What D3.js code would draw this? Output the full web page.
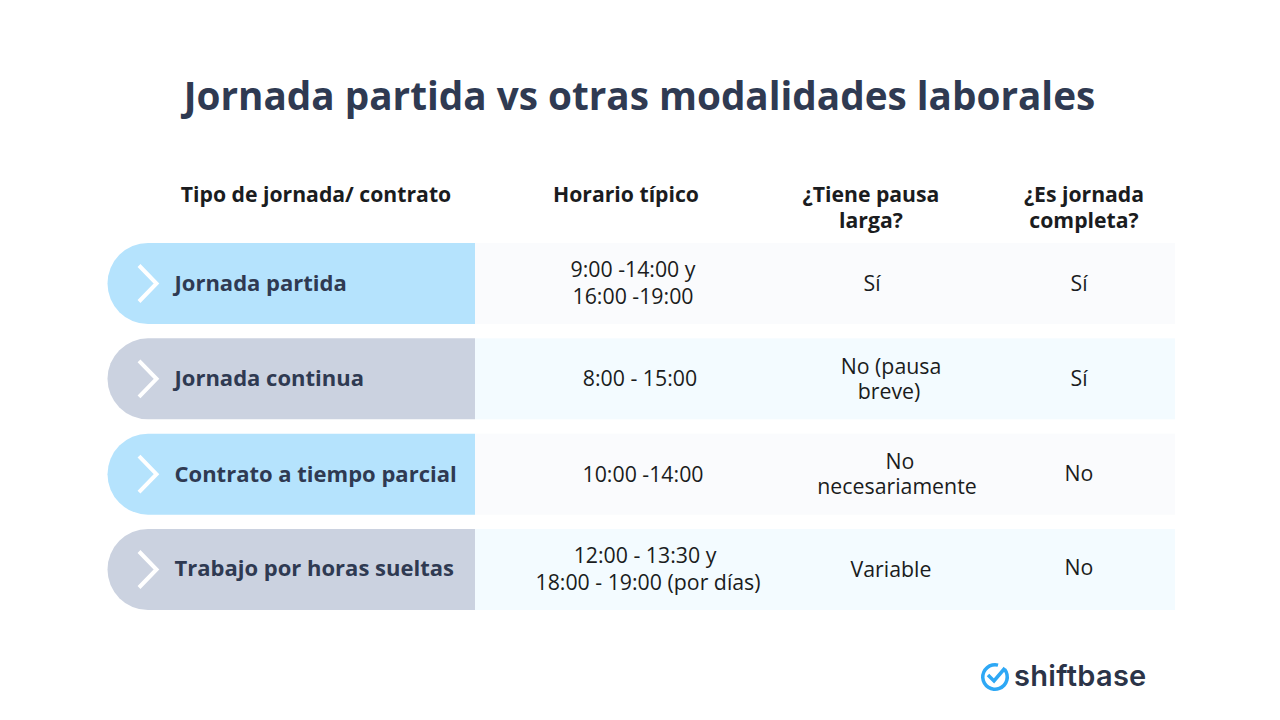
<!DOCTYPE html>
<html>
<head>
<meta charset="utf-8">
<script src="https://cdn.jsdelivr.net/npm/d3@7"></script>
<style>
  html, body { margin: 0; padding: 0; background: #fff; }
  svg { display: block; font-family: "Open Sans", sans-serif; }
</style>
</head>
<body>
<svg id="chart" width="1280" height="720"></svg>
<script>
var title = "Jornada partida vs otras modalidades laborales";
var jornadas = ["Jornada partida", "Jornada continua", "Contrato a tiempo parcial", "Trabajo por horas sueltas"];
var headers = [["Tipo de jornada/ contrato"], ["Horario típico"], ["¿Tiene pausa", "larga?"], ["¿Es jornada", "completa?"]];
var horarios = [["9:00 -14:00 y", "16:00 -19:00"], ["8:00 - 15:00"], ["10:00 -14:00"], ["12:00 - 13:30 y", "18:00 - 19:00 (por días)"]];
var pausas = [["Sí"], ["No (pausa", "breve)"], ["No", "necesariamente"], ["Variable"]];
var completas = [["Sí"], ["Sí"], ["No"], ["No"]];

var svg = d3.select("#chart");
var rowY = d3.scaleBand().domain(jornadas).range([243, 610]).paddingInner(0.15);
var colors = ["#b5e3fd", "#cbd2e0"];
var cellColors = ["#fafbfd", "#f3fbff"];
var dark = "#2f3a52";
var black = "#1a1c20";

// the original text boxes are not lined up on one axis, so each cell has its own nudge
var nudge = {
  horario: [[633, 633], [640], [643], [645, 648]],
  pausa: [[872], [891, 889], [900, 897], [891]],
  completa: [[1079], [1079], [1079], [1079]]
};
var midShift = {horario: [-1, -1, 0, -1], pausa: [-1, 0, -1, 0], completa: [-1, -1, -1, -2]};
var labelShift = [0, 0, 1, 0];

// multi line text goes in tspans of one text element
function multiline(x, y, lines, xs, gap){
  var t = svg.append("text").attr("y", y).attr("text-anchor", "middle");
  lines.forEach(function(s, j){
    t.append("tspan")
      .attr("x", xs ? xs[j] : x)
      .attr("y", y + j * gap)
      .text(s);
  });
  return t;
}

svg.append("text")
  .attr("x", 639.5).attr("y", 110)
  .attr("text-anchor", "middle")
  .attr("font-size", 38.7).attr("font-weight", 700)
  .attr("fill", dark)
  .text(title);

// header row
var headX = [316, 626, 871, 1084];
headers.forEach(function(lines, i){
  multiline(headX[i], 202, lines, null, 26)
    .attr("font-size", 21.2).attr("font-weight", 700)
    .attr("fill", black);
});

var rows = svg.selectAll("g.row").data(jornadas).enter().append("g").attr("class", "row");

rows.append("rect")
  .attr("x", 475).attr("width", 700)
  .attr("y", function(d){ return rowY(d); })
  .attr("height", rowY.bandwidth())
  .attr("fill", function(d, i){ return cellColors[i % 2]; });

// left label, rounded only on its left side
rows.append("path")
  .attr("d", function(d){
    var y = rowY(d), h = rowY.bandwidth(), r = h / 2, x0 = 107.5, x1 = 475;
    return "M" + x1 + "," + y + "H" + (x0 + r) +
      "A" + r + "," + r + " 0 0 0 " + (x0 + r) + "," + (y + h) +
      "H" + x1 + "Z";
  })
  .attr("fill", function(d, i){ return colors[i % 2]; });

rows.append("path")
  .attr("d", function(d){
    var m = rowY(d) + rowY.bandwidth() / 2;
    return "M139," + (m - 18) + "L156.5," + m + "L139," + (m + 18);
  })
  .attr("fill", "none")
  .attr("stroke", "#fff")
  .attr("stroke-width", 4);

rows.append("text")
  .attr("x", 174.5)
  .attr("y", function(d, i){ return rowY(d) + rowY.bandwidth() / 2 + 7 + labelShift[i]; })
  .attr("font-size", 22).attr("font-weight", 700)
  .attr("fill", dark)
  .text(function(d){ return d; });

function drawCells(cells, key){
  cells.forEach(function(lines, i){
    var m = rowY(jornadas[i]) + rowY.bandwidth() / 2 + midShift[key][i];
    var gap = key == "horario" ? 27 : 25;
    multiline(0, m + 8 - (lines.length - 1) / 2 * gap, lines, nudge[key][i], gap)
      .attr("font-size", 21.3)
      .attr("fill", black);
  });
}
drawCells(horarios, "horario");
drawCells(pausas, "pausa");
drawCells(completas, "completa");

// logo
var logo = svg.append("g");
logo.append("path")
  .attr("d", d3.arc().innerRadius(10.5).outerRadius(14).startAngle(0.9).endAngle(Math.PI * 2 + 0.25)())
  .attr("transform", "translate(995,677)")
  .attr("fill", "#2ea8f5");
logo.append("path")
  .attr("d", "M988,675L994,681L1005,668")
  .attr("fill", "none").attr("stroke", "#2ea8f5").attr("stroke-width", 3.5);
logo.append("text")
  .attr("x", 1014).attr("y", 686)
  .attr("font-family", "Inter, sans-serif")
  .attr("font-size", 29).attr("font-weight", 600)
  .attr("letter-spacing", 0.3)
  .attr("fill", "#2b3448")
  .text("shiftbase");
</script>
</body>
</html>
